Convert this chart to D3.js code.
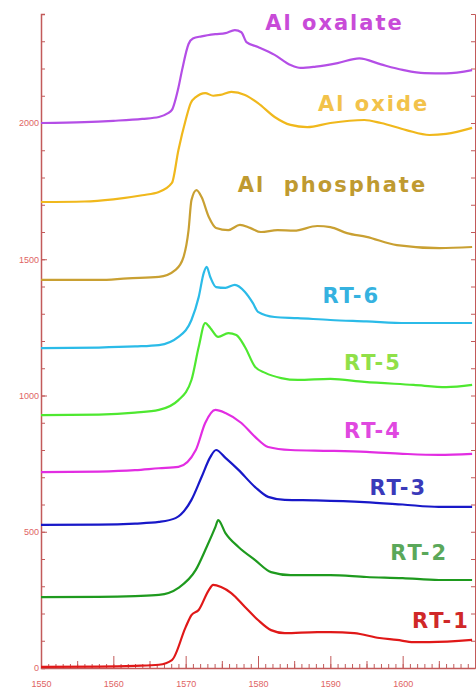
<!DOCTYPE html>
<html>
<head>
<meta charset="utf-8">
<script src="https://cdn.jsdelivr.net/npm/d3@7"></script>
<style>
	body { margin: 0; background: #fff; }
	svg { display: block; }
	.lbl { font-family: "DejaVu Sans", sans-serif; font-weight: bold; font-size: 21px; white-space: pre; }
	.axis text { font-family: "Liberation Sans", Arial, sans-serif; font-size: 9px; fill: #e06464; }
	.axis path, .axis line { stroke: #c25a5a; }
</style>
</head>
<body>
<div id="chart"></div>
<script>
// Raman shift (cm-1) vs intensity, spectra stacked with offsets
var oxalate = [[1550,2000],[1556,2003],[1560,2008],[1564,2015],[1566.3,2022],[1567.5,2035],[1568.1,2048],[1569,2130],[1569.5,2194],[1570.4,2290],[1571,2310],[1572.2,2318],[1574.1,2326],[1575.5,2330],[1576.8,2341],[1577.7,2333],[1578.4,2297],[1580,2279],[1582.3,2250],[1584.5,2213],[1585.9,2202],[1588,2207],[1591,2220],[1594,2237],[1597,2215],[1600,2195],[1603,2183],[1606,2182],[1609.6,2194]];
var oxide = [[1550,1710],[1556,1712],[1560,1720],[1564,1735],[1566.3,1747],[1568.1,1780],[1569,1901],[1570,2011],[1570.7,2073],[1571.4,2095],[1572.7,2110],[1573.8,2100],[1574.8,2103],[1576.3,2114],[1578.2,2103],[1580,2073],[1582.3,2022],[1584.5,1993],[1586.8,1985],[1590,2000],[1594.7,2011],[1597,2000],[1600.5,1974],[1603.7,1956],[1606,1960],[1609.6,1982]];
var phosphate = [[1550,1424],[1558,1424],[1562,1430],[1566.3,1435],[1568.6,1461],[1569.7,1508],[1570.4,1607],[1570.8,1717],[1571.5,1754],[1572.2,1728],[1573.2,1655],[1574.2,1615],[1575.9,1607],[1577.5,1626],[1578.9,1615],[1580.4,1600],[1582.7,1607],[1585,1605],[1588.2,1622],[1590,1618],[1592.3,1596],[1595,1582],[1599.2,1552],[1605.1,1541],[1609.6,1545]];
var rt6 = [[1550,1174],[1558,1176],[1563,1180],[1566.3,1185],[1569,1215],[1570.8,1277],[1571.8,1361],[1572.5,1450],[1572.9,1472],[1573.4,1435],[1574.2,1398],[1575.5,1395],[1576.8,1406],[1578.2,1380],[1579.3,1339],[1580,1307],[1582.3,1288],[1585.5,1284],[1590,1277],[1595,1272],[1600.5,1266],[1605,1266],[1609.6,1266]];
var rt5 = [[1550,928],[1558,930],[1563,937],[1566.3,947],[1569,983],[1570.8,1057],[1571.8,1178],[1572.7,1266],[1573.4,1248],[1574.5,1215],[1575.9,1229],[1577,1222],[1578.2,1178],[1579.6,1105],[1581,1083],[1583.2,1064],[1585.5,1057],[1590,1061],[1594.7,1050],[1601.5,1039],[1606,1031],[1609.6,1039]];
var rt4 = [[1550,719],[1558,721],[1563,726],[1566.3,733],[1569,738],[1571.4,800],[1572.7,899],[1574.1,947],[1575.5,936],[1577.7,899],[1579.6,848],[1581.4,811],[1584.5,800],[1590,797],[1595,793],[1600,786],[1605,782],[1609.6,786]];
var rt3 = [[1550,525],[1558,526],[1563,530],[1566.3,536],[1568.6,550],[1570.8,617],[1572.2,701],[1573.4,774],[1574.2,800],[1575.5,771],[1577.3,727],[1579.6,664],[1581.4,628],[1583.7,617],[1588,615],[1594.7,609],[1600,600],[1605,591],[1609.6,591]];
var rt2 = [[1550,260],[1558,261],[1563,264],[1566.3,268],[1569,294],[1571.4,360],[1572.9,444],[1574.1,517],[1574.5,543],[1575.5,495],[1577.3,444],[1579.6,396],[1581.8,352],[1584.5,341],[1590,341],[1595,334],[1600,330],[1605,323],[1609.6,323]];
var rt1 = [[1550,4],[1558,5],[1563,8],[1566.3,12],[1568.1,29],[1570,150],[1570.8,194],[1571.8,213],[1573.2,286],[1573.8,305],[1574.9,297],[1576.3,275],[1578.2,224],[1580,176],[1581.8,139],[1583.7,128],[1588.2,132],[1590,132],[1593.3,128],[1596.8,110],[1599.2,103],[1601.5,95],[1603.7,95],[1609.6,103]];

var seriesNames = ["Al oxalate", "Al oxide", "Al  phosphate", "RT-6", "RT-5", "RT-4", "RT-3", "RT-2", "RT-1"];
var seriesData = [oxalate, oxide, phosphate, rt6, rt5, rt4, rt3, rt2, rt1];
var xTicks = [1550, 1560, 1570, 1580, 1590, 1600];
var yTicks = [0, 500, 1000, 1500, 2000];

// styles
var lineColors = ["#b44ee6", "#f0b81c", "#c9a032", "#2bbbe8", "#4ee830", "#e22de2", "#1818c8", "#1e9a1e", "#e01818"];
var labelColors = ["#c84bd8", "#f2c24a", "#bf9a30", "#35b2e0", "#90e048", "#e048e0", "#3a3aba", "#5aa85a", "#d02828"];
// label anchors in data units (left x, baseline y)
var labelAt = [[1581.0, 2341], [1588.3, 2044], [1577.2, 1747], [1588.9, 1339], [1591.9, 1094], [1591.9, 844], [1595.4, 635], [1598.3, 396], [1601.3, 147]];

var width = 476, height = 691;
var x = d3.scaleLinear().domain([1550, 1610]).range([41, 475]);
var y = d3.scaleLinear().domain([0, 2400]).range([668, 14]);

var svg = d3.select("#chart").append("svg")
	.attr("width", width)
	.attr("height", height);

// minor ticks bottom
svg.append("g")
	.attr("class", "axis")
	.attr("transform", "translate(0," + y(0) + ")")
	.call(d3.axisBottom(x).tickValues(d3.range(1550, 1611, 1)).tickSize(-4).tickFormat(""))
	.select(".domain").remove();
svg.append("g")
	.attr("class", "axis")
	.attr("transform", "translate(0," + y(0) + ")")
	.call(d3.axisBottom(x).tickValues(d3.range(1555, 1611, 10)).tickSize(-7).tickFormat(""))
	.select(".domain").remove();
var xAxis = svg.append("g")
	.attr("class", "axis")
	.attr("transform", "translate(0," + y(0) + ")")
	.call(d3.axisBottom(x).tickValues(xTicks).tickSize(-12).tickSizeOuter(0).tickPadding(20).tickFormat(d3.format("d")));
xAxis.selectAll(".tick text").attr("dy", "-0.1em");
xAxis.select(".domain").attr("stroke-width", 1.5);

// left axis
svg.append("g")
	.attr("class", "axis")
	.attr("transform", "translate(" + x(1550) + ",0)")
	.call(d3.axisLeft(y).tickValues(d3.range(0, 2401, 100)).tickSize(-4).tickFormat(""))
	.select(".domain").attr("stroke-width", 1.5);
svg.append("g")
	.attr("class", "axis")
	.attr("transform", "translate(" + x(1550) + ",0)")
	.call(d3.axisLeft(y).tickValues(yTicks).tickSize(-6).tickPadding(2).tickFormat(d3.format("d")))
	.select(".domain").remove();

// right axis
svg.append("g")
	.attr("class", "axis")
	.attr("transform", "translate(" + x(1610) + ",0)")
	.call(d3.axisRight(y).tickValues(d3.range(0, 2401, 100)).tickSize(-4).tickFormat(""))
	.select(".domain").attr("stroke", "#c9a0a0");

var line = d3.line()
	.x(function(d) { return x(d[0]); })
	.y(function(d) { return y(d[1]); })
	.curve(d3.curveMonotoneX);

svg.append("g").selectAll("path")
	.data(seriesData)
	.enter().append("path")
	.attr("d", line)
	.attr("fill", "none")
	.attr("stroke", function(d, i) { return lineColors[i]; })
	.attr("stroke-width", 2.2)
	.attr("stroke-linejoin", "round");

svg.append("g").selectAll("text")
	.data(seriesNames)
	.enter().append("text")
	.attr("class", "lbl")
	.attr("x", function(d, i) { return x(labelAt[i][0]); })
	.attr("y", function(d, i) { return y(labelAt[i][1]); })
	.attr("fill", function(d, i) { return labelColors[i]; })
	.attr("letter-spacing", 2)
	.text(function(d) { return d; });
</script>
</body>
</html>
